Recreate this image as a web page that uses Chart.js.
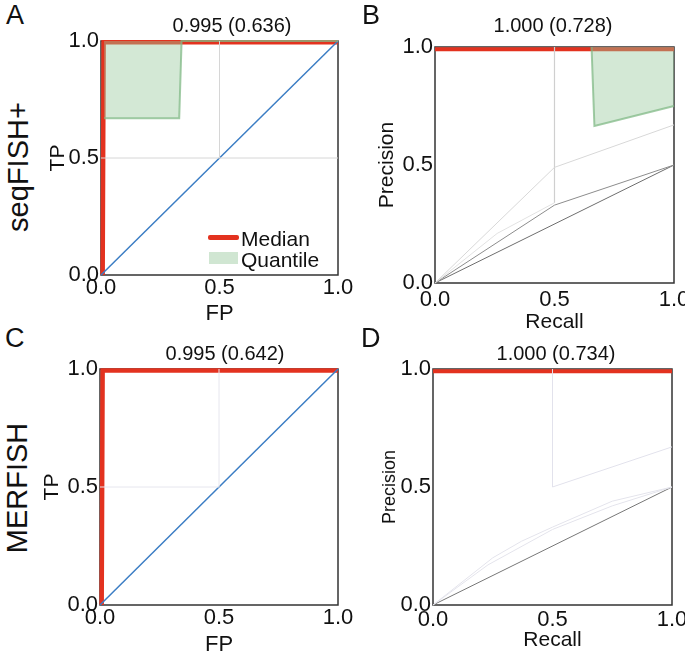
<!DOCTYPE html>
<html>
<head>
<meta charset="utf-8">
<script src="https://cdn.jsdelivr.net/npm/chart.js@4.4.0/dist/chart.umd.min.js"></script>
<style>
  body { margin: 0; background: #fff; }
  #wrap { position: relative; width: 685px; height: 652px; overflow: hidden; font-family: "Liberation Sans", Arial, Helvetica, sans-serif; color: #111; }
  canvas { position: absolute; }
  .lbl { position: absolute; white-space: nowrap; line-height: 1; }
  .letter { font-size: 27px; }
  .row { font-size: 29px; transform: translate(-50%, -50%) rotate(-90deg); }
  .ttl { font-size: 20px; transform: translate(-50%, -50%); }
  .leg { font-size: 21px; }
</style>
</head>
<body>
<div id="wrap">
  <canvas id="chartA" width="320" height="310" style="left:40px;top:20px"></canvas>
  <canvas id="chartB" width="340" height="315" style="left:345px;top:20px"></canvas>
  <canvas id="chartC" width="320" height="320" style="left:40px;top:340px"></canvas>
  <canvas id="chartD" width="340" height="320" style="left:345px;top:340px"></canvas>

  <div class="lbl letter" style="left:6px;top:2px">A</div>
  <div class="lbl letter" style="left:362px;top:2px">B</div>
  <div class="lbl letter" style="left:5px;top:325px">C</div>
  <div class="lbl letter" style="left:361px;top:325px">D</div>

  <div class="lbl row" style="left:18px;top:167px">seqFISH+</div>
  <div class="lbl row" style="left:17px;top:488px">MERFISH</div>

  <div class="lbl ttl" style="left:232px;top:25px">0.995 (0.636)</div>
  <div class="lbl ttl" style="left:553px;top:25px">1.000 (0.728)</div>
  <div class="lbl ttl" style="left:225px;top:353px">0.995 (0.642)</div>
  <div class="lbl ttl" style="left:556px;top:353px">1.000 (0.734)</div>

  <div style="position:absolute;left:208px;top:235px;width:31px;height:5px;background:#e3321f;border-radius:2px"></div>
  <div class="lbl leg" style="left:241px;top:228px">Median</div>
  <div style="position:absolute;left:209px;top:252px;width:29px;height:12px;background:rgba(150,200,155,0.45)"></div>
  <div class="lbl leg" style="left:241px;top:249px">Quantile</div>
</div>

<script>
// tick values on both axes
var tickValues = [0, 0.5, 1];

// A: ROC seqFISH+
var rocA_medianFP = [0.007, 0.011, 1];
var rocA_medianTP = [0, 0.995, 0.995];
var rocA_lowFP = [0.013, 0.33, 0.34, 1];
var rocA_lowTP = [0.67, 0.67, 1, 1];
var rocA_hFP = [0, 1];
var rocA_hTP = [0.5, 0.5];
var rocA_vFP = [0.5, 0.5];
var rocA_vTP = [0.5, 1];

// C: ROC MERFISH
var rocC_medianFP = [0.007, 0.011, 1];
var rocC_medianTP = [0, 0.994, 0.994];
var rocC_gridFP = [0, 0.5, 0.5];
var rocC_gridTP = [0.5, 0.5, 1];

// chance line
var chanceX = [0, 1];
var chanceY = [0, 1];

// B: PR seqFISH+
var prB_medianR = [0, 1];
var prB_medianP = [0.99, 0.99];
var prB_lowR = [0.655, 0.667, 1];
var prB_lowP = [1, 0.665, 0.75];
var prB_c1R = [0, 0.5, 1];
var prB_c1P = [0, 0.49, 0.67];
var prB_vR = [0.5, 0.5];
var prB_vP = [1, 0.34];
var prB_c2R = [0, 0.26, 0.5];
var prB_c2P = [0, 0.21, 0.34];
var prB_c3R = [0, 0.5, 1];
var prB_c3P = [0, 0.33, 0.5];
var prB_baseR = [0, 1];
var prB_baseP = [0, 0.5];

// D: PR MERFISH
var prD_medianR = [0, 1];
var prD_medianP = [0.99, 0.99];
var prD_c1R = [0.5, 0.5, 1];
var prD_c1P = [1, 0.5, 0.67];
var prD_c2R = [0, 0.25, 0.37, 0.5, 0.75, 1];
var prD_c2P = [0, 0.2, 0.27, 0.33, 0.44, 0.5];
var prD_c3R = [0, 0.23, 0.5, 0.75, 1];
var prD_c3P = [0, 0.17, 0.32, 0.42, 0.5];
var prD_baseR = [0, 1];
var prD_baseP = [0, 0.5];

var FONT = '"Liberation Sans", Arial, Helvetica, sans-serif';
var RED = '#e3321f';
var BLUE = '#3b7dc4';

function pts(xs, ys) {
  return xs.map(function(x, i) { return {x: x, y: ys[i]}; });
}

function line(xs, ys, color, width, extra) {
  var ds = {
    data: pts(xs, ys),
    showLine: true,
    borderColor: color,
    borderWidth: width,
    pointRadius: 0,
    fill: false,
    clip: false
  };
  for (var k in extra) ds[k] = extra[k];
  return ds;
}

// box around the plot area
var boxPlugin = {
  id: 'box',
  beforeDatasetsDraw: function(chart) {
    var a = chart.chartArea, ctx = chart.ctx;
    ctx.save();
    ctx.strokeStyle = '#333';
    ctx.lineWidth = 1.5;
    ctx.strokeRect(a.left, a.top, a.right - a.left, a.bottom - a.top);
    ctx.restore();
  }
};

// scales should not push the plot area in for overflowing labels
function noPad(s) {
  s.paddingLeft = 0; s.paddingRight = 0; s.paddingTop = 0; s.paddingBottom = 0;
}

function makeChart(id, datasets, o) {
  return new Chart(document.getElementById(id), {
    type: 'scatter',
    data: { datasets: datasets },
    options: {
      responsive: false,
      animation: false,
      devicePixelRatio: 1,
      layout: { autoPadding: false, padding: { top: o.padTop, right: o.padRight, left: 0, bottom: 0 } },
      plugins: { legend: { display: false }, tooltip: { enabled: false } },
      scales: {
        x: {
          type: 'linear', min: 0, max: 1,
          afterBuildTicks: function(s) { s.ticks = tickValues.map(function(v) { return {value: v}; }); },
          afterFit: function(s) { s.height = o.xHeight; noPad(s); },
          grid: { display: false, drawTicks: false },
          border: { display: false },
          ticks: { padding: o.xTickPad, color: '#111', font: { family: FONT, size: 22 }, maxRotation: 0,
                   callback: function(v) { return v.toFixed(1); } },
          title: { display: true, text: o.xTitle, color: '#111', font: { family: FONT, size: o.xTitleSize },
                   padding: { top: 0, bottom: o.xTitlePad } }
        },
        y: {
          type: 'linear', min: 0, max: 1,
          afterBuildTicks: function(s) { s.ticks = tickValues.map(function(v) { return {value: v}; }); },
          afterFit: function(s) { s.width = o.yWidth; noPad(s); },
          grid: { display: false, drawTicks: false },
          border: { display: false },
          ticks: { padding: 2, color: '#111', font: { family: FONT, size: 22 },
                   callback: function(v) { return v.toFixed(1); } },
          title: { display: true, text: o.yTitle, color: '#111', font: { family: FONT, size: o.yTitleSize },
                   padding: { top: o.yTitlePad, bottom: 0 } }
        }
      }
    },
    plugins: [boxPlugin]
  });
}

var greenFill = 'rgba(150,200,155,0.42)';
var greenEdge = 'rgba(130,185,135,0.75)';

makeChart('chartA', [
  line(rocA_hFP, rocA_hTP, '#d6d6d6', 1),
  line(rocA_vFP, rocA_vTP, '#d6d6d6', 1),
  line(rocA_lowFP, rocA_lowTP, greenEdge, 2, { fill: { value: 1 }, backgroundColor: greenFill }),
  line(chanceX, chanceY, BLUE, 1.5),
  line(rocA_medianFP, rocA_medianTP, RED, 4.5)
], { padTop: 21, padRight: 22, yWidth: 61, xHeight: 55, xTickPad: 0, xTitle: 'FP', xTitleSize: 22, xTitlePad: 3,
     yTitle: 'TP', yTitleSize: 21, yTitlePad: 6 });

makeChart('chartB', [
  line(prB_c1R, prB_c1P, '#d8d8d8', 1),
  line(prB_vR, prB_vP, '#cfcfcf', 1.2),
  line(prB_c2R, prB_c2P, '#e2e2e2', 1),
  line(prB_c3R, prB_c3P, '#8c8c8c', 1),
  line(prB_baseR, prB_baseP, '#6e6e6e', 1),
  line(prB_lowR, prB_lowP, greenEdge, 2, { fill: { value: 1 }, backgroundColor: greenFill }),
  line(prB_medianR, prB_medianP, RED, 4)
], { padTop: 27, padRight: 11, yWidth: 90, xHeight: 52, xTickPad: 4, xTitle: 'Recall', xTitleSize: 21, xTitlePad: 0,
     yTitle: 'Precision', yTitleSize: 21, yTitlePad: 30 });

makeChart('chartC', [
  line(rocC_gridFP, rocC_gridTP, '#e6e6ee', 1),
  line(chanceX, chanceY, BLUE, 1.5),
  line(rocC_medianFP, rocC_medianTP, RED, 4.5)
], { padTop: 29, padRight: 22, yWidth: 60, xHeight: 55, xTickPad: 0, xTitle: 'FP', xTitleSize: 22, xTitlePad: 2,
     yTitle: 'TP', yTitleSize: 21, yTitlePad: 0 });

makeChart('chartD', [
  line(prD_c1R, prD_c1P, '#e2e2ec', 1),
  line(prD_c2R, prD_c2P, '#e4e4ec', 1),
  line(prD_c3R, prD_c3P, '#e4e4ec', 1),
  line(prD_baseR, prD_baseP, '#777', 1),
  line(prD_medianR, prD_medianP, RED, 4)
], { padTop: 29, padRight: 13, yWidth: 88, xHeight: 55, xTickPad: 2, xTitle: 'Recall', xTitleSize: 21, xTitlePad: 7,
     yTitle: 'Precision', yTitleSize: 18, yTitlePad: 34 });
</script>
</body>
</html>
